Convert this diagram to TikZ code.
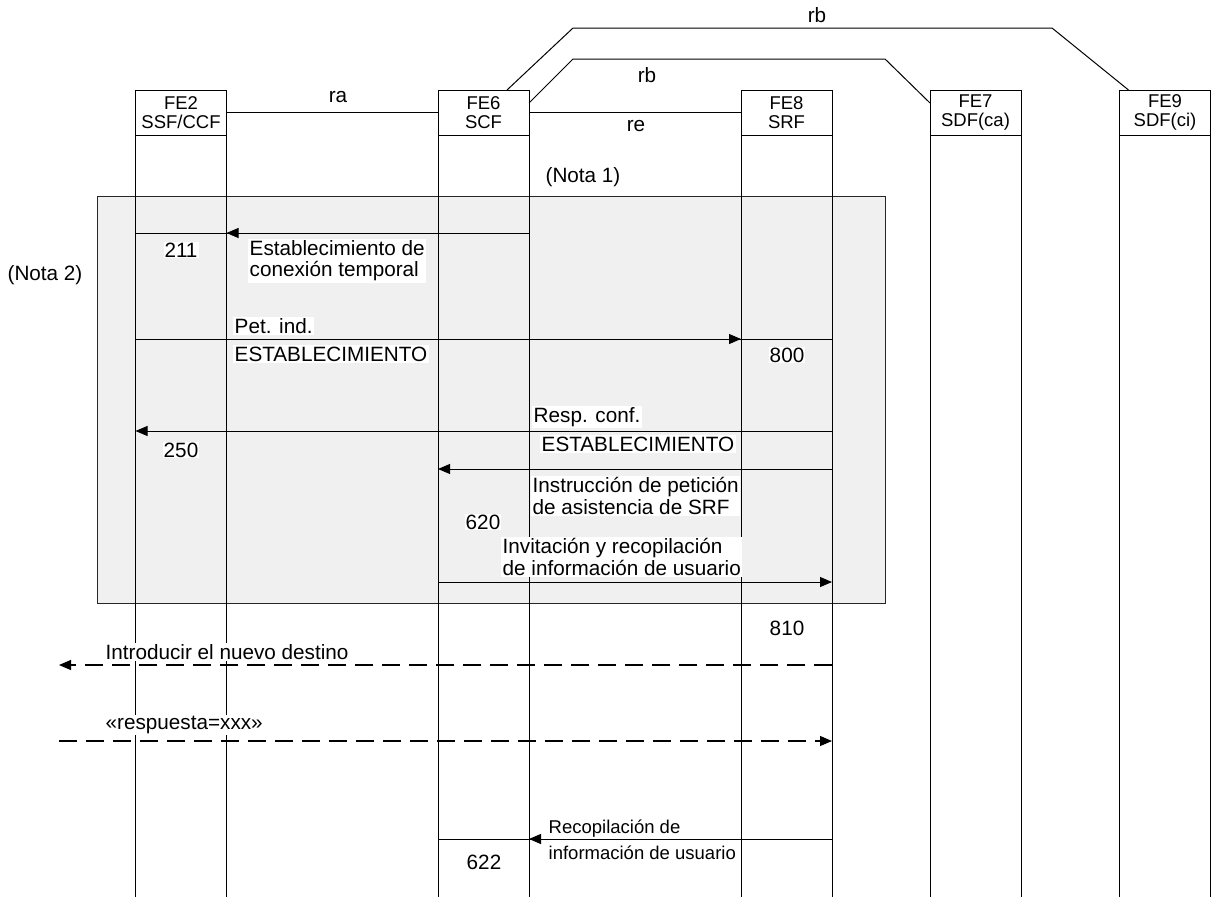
\documentclass[tikz,border=0pt]{standalone}
\usepackage{fontspec}
\setmainfont{Liberation Sans}
\usetikzlibrary{arrows.meta}
\definecolor{GrisNota}{HTML}{F0F0F0}
\newcommand{\msgfont}{\fontsize{20.7}{21.2}\selectfont}
\newcommand{\hdrfont}{\fontsize{18.5}{19.5}\selectfont}
\newcommand{\recfont}{\fontsize{18.5}{26}\selectfont}

\begin{document}
\begin{tikzpicture}[
    x=1pt, y=-1pt,
    febox/.style={
      draw,
      line width=1pt,
      outer sep=0pt,
      inner sep=0pt,
      minimum width=91pt,
      minimum height=45pt,
      align=center,
      font=\hdrfont
    },
    notebox/.style={
      draw=black!85,
      fill=GrisNota,
      line width=1pt,
      anchor=north west,
      minimum width=788pt,
      minimum height=407pt
    },
    lifeline/.style={line width=1pt},
    reflink/.style={line width=1pt},
    msgline/.style={line width=1pt},
    msgarrow/.style={
      line width=1pt,
      -{Triangle[length=12pt,width=10pt]}
    },
    userarrow/.style={
      msgarrow,
      line width=1.2pt,
      dash pattern=on 18pt off 9pt
    },
    msglabel/.style={
      fill=white,
      inner sep=1.5pt,
      anchor=west,
      align=left,
      font=\msgfont
    },
    refnum/.style={fill=white, inner sep=1pt, font=\msgfont},
    plainlabel/.style={inner sep=1pt, font=\msgfont}
  ]
  \useasboundingbox (0,0) rectangle (1212,897);

  % entidades funcionales
  \node[febox] (fe2) at (181,112.5) {FE2\\SSF/CCF};
  \node[febox] (fe6) at (483.5,112.5) {FE6\\SCF};
  \node[febox] (fe8) at (786.5,112.5) {FE8\\SRF};
  \node[febox] (fe7) at (975.5,112.5) {FE7\\SDF(ca)};
  \node[febox] (fe9) at (1165,112.5) {FE9\\SDF(ci)};

  \coordinate (fondo) at (0,897);
  \coordinate (usuario) at (59,0);

  % zona de la nota 2
  \node[notebox] (grupo) at (97,196) {};

  \foreach \fe in {fe2,fe6,fe8,fe7,fe9} {
    \draw[lifeline] (\fe.south west) -- (\fe.south west |- fondo);
    \draw[lifeline] (\fe.south east) -- (\fe.south east |- fondo);
  }

  % relaciones
  \draw[reflink] (fe2.east) -- (fe6.west);
  \draw[reflink] (fe6.east) -- (fe8.west);
  \draw[reflink] ([xshift=-22pt]fe6.north east) -- (573,28) -- (1052,28) -- ([xshift=9pt]fe9.north west);
  \draw[reflink] ([yshift=-13pt]fe6.north east) -- (573,59) -- (885,59) -- ([yshift=-13pt]fe7.north west);
  \node[plainlabel] (ra) at (338,97) {ra};
  \node[plainlabel] (re) at (636,126) {re};
  \node[plainlabel] (rbin) at (647,75) {rb};
  \node[plainlabel] (rbout) at (817,15) {rb};

  \node[plainlabel] (nota1) at (583,177) {(Nota 1)};
  \node[plainlabel] (nota2) at (45,275) {(Nota 2)};

  % flujos de informacion
  \coordinate (m211) at (0,233);
  \coordinate (mpet) at (0,339);
  \coordinate (mresp) at (0,431);
  \coordinate (minst) at (0,469);
  \coordinate (minv) at (0,582);
  \coordinate (mdest) at (0,665);
  \coordinate (mxxx) at (0,741);
  \coordinate (mrec) at (0,839);

  \draw[msgline] (fe6.east |- m211) -- (fe2.west |- m211);
  \draw[msgarrow] (fe6.east |- m211) -- (fe2.east |- m211);
  \draw[msgline] (fe2.west |- mpet) -- (fe8.east |- mpet);
  \draw[msgarrow] (fe2.west |- mpet) -- (fe8.west |- mpet);
  \draw[msgarrow] (fe8.east |- mresp) -- (fe2.west |- mresp);
  \draw[msgarrow] (fe8.east |- minst) -- (fe6.west |- minst);
  \draw[msgarrow] (fe6.west |- minv) -- (fe8.east |- minv);
  \draw[userarrow] (fe8.east |- mdest) -- (usuario |- mdest);
  \draw[userarrow] (usuario |- mxxx) -- (fe8.east |- mxxx);
  \draw[msgline] (fe8.east |- mrec) -- (fe6.west |- mrec);
  \draw[msgarrow] (fe8.east |- mrec) -- (fe6.east |- mrec);

  \node[msglabel] (lest) at (248,261) {Establecimiento de\\conexión temporal};
  \node[msglabel] (lpet) at (233,326) {Pet. ind.};
  \node[msglabel] (lpetb) at (233,354) {ESTABLECIMIENTO};
  \node[msglabel] (lresp) at (532,417) {Resp. conf.};
  \node[msglabel] (lrespb) at (540,444) {ESTABLECIMIENTO};
  \node[msglabel] (linst) at (531,496) {Instrucción de petición\\de asistencia de SRF};
  \node[msglabel] (linv) at (501,557) {Invitación y recopilación\\de información de usuario};
  \node[msglabel] (ldest) at (104,652) {Introducir el nuevo destino};
  \node[msglabel] (lxxx) at (104,725) {«respuesta=xxx»};
  \node[msglabel, fill=none, font=\recfont] (lrec) at (547,840) {Recopilación de\\información de usuario};

  \node[refnum] (n211) at (181,250) {211};
  \node[refnum] (n800) at (787,355) {800};
  \node[refnum] (n250) at (181,450) {250};
  \node[refnum] (n620) at (483,522) {620};
  \node[refnum] (n810) at (787,628) {810};
  \node[refnum] (n622) at (484,862) {622};

\end{tikzpicture}
\end{document}
